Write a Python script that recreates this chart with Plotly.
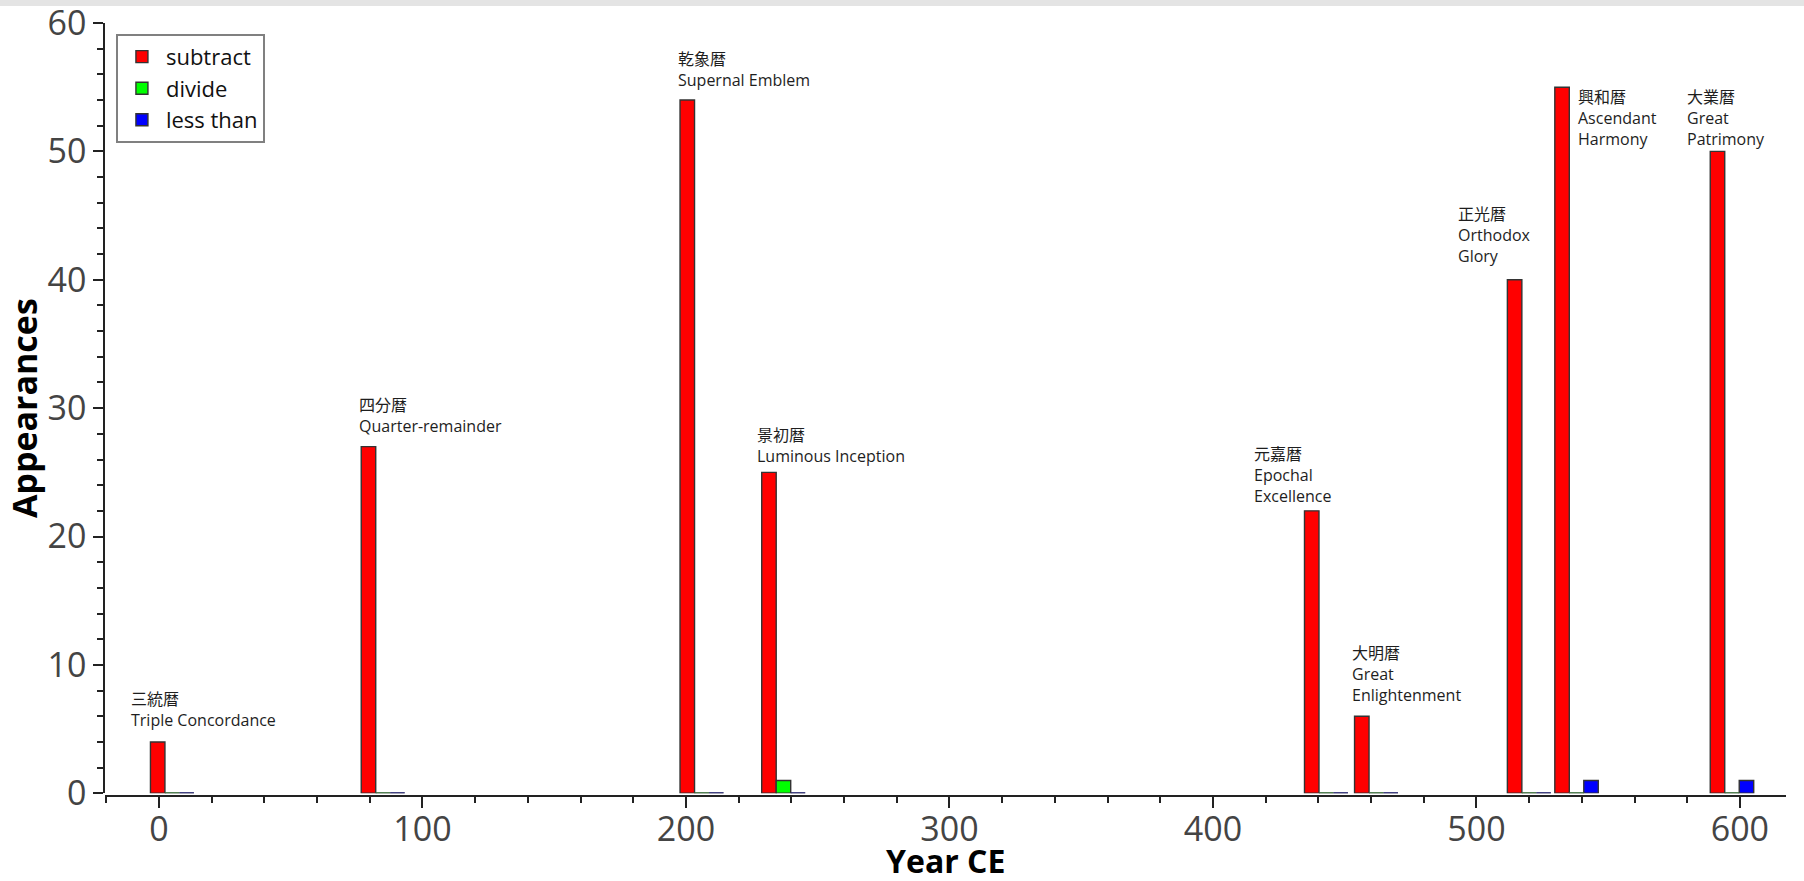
import plotly.graph_objects as go

# ---------------- data ----------------
calendar_zh = ["三統暦", "四分暦", "乾象暦", "景初暦", "元嘉暦", "大明暦", "正光暦", "興和暦", "大業暦"]
calendar_en = ["Triple Concordance", "Quarter-remainder", "Supernal Emblem", "Luminous Inception",
               "Epochal\nExcellence", "Great\nEnlightenment", "Orthodox\nGlory",
               "Ascendant\nHarmony", "Great\nPatrimony"]
years = [5, 85, 206, 237, 443, 462, 520, 538, 597]
subtract = [4, 27, 54, 25, 22, 6, 40, 55, 50]
divide = [0, 0, 0, 1, 0, 0, 0, 0, 0]
less_than = [0, 0, 0, 0, 0, 0, 0, 1, 1]

x_ticks = [0, 100, 200, 300, 400, 500, 600]
y_ticks = [0, 10, 20, 30, 40, 50, 60]

# ---------------- styling / layout constants ----------------
BAR_W = 5.5
series = [
    ("subtract", subtract, "#ff0000", "#7a1a1a"),
    ("divide", divide, "#00ff00", "#3c7a3c"),
    ("less than", less_than, "#0000ff", "#25257a"),
]
offsets = [-1.5 * BAR_W, -0.5 * BAR_W, 0.5 * BAR_W]

# label placement (pixel shifts relative to the top-left of each red bar)
label_shift = [
    (-21, 9, "bottom"), (-4, 8, "bottom"), (-4, 7, "bottom"), (-7, 3, "bottom"),
    (-52, 2, "bottom"), (-5, 8, "bottom"), (-51, 11, "bottom"), (21, 3, "top"),
    (-25, -1, "bottom"),
]

W, H = 1804, 881
ML, MR, MT, MB = 105, 18, 23, 85
plot_w = W - ML - MR
plot_h = H - MT - MB
y_dom0 = 2.7 / plot_h

fig = go.Figure()
for (name, vals, fill, zero_col), off in zip(series, offsets):
    fig.add_trace(go.Bar(
        x=years, y=vals, name=name,
        width=BAR_W, offset=off,
        marker=dict(color=fill, line=dict(color="#333333", width=1.4)),
    ))
    # zero-height bars drawn as a thin line along the baseline
    zx, zy = [], []
    for yr, v in zip(years, vals):
        if v == 0:
            zx += [yr + off, yr + off + BAR_W, None]
            zy += [v, v, None]
    if zx:
        fig.add_trace(go.Scatter(
            x=zx, y=zy, mode="lines", showlegend=False, hoverinfo="skip",
            line=dict(color=zero_col, width=2.2),
        ))

annotations = []
for zh, en, yr, v, (dx, dy, anc) in zip(calendar_zh, calendar_en, years, subtract, label_shift):
    annotations.append(dict(
        x=yr + offsets[0], y=v, xref="x", yref="y",
        text=zh + "<br>" + en.replace("\n", "<br>"),
        showarrow=False, xanchor="left", yanchor=anc, align="left",
        xshift=dx, yshift=dy,
        font=dict(family="Open Sans, Noto Sans CJK JP", size=16, color="#1e1e1e"),
    ))

# x-axis title (placed as paper annotation so it can sit close to the bottom edge)
annotations.append(dict(
    x=0.5, y=-(860 - 796) / plot_h, xref="paper", yref="paper",
    text="<b>Year CE</b>", showarrow=False, xanchor="center", yanchor="middle",
    font=dict(family="Open Sans", size=32, color="#000000"),
))

fig.update_layout(
    width=W, height=H,
    margin=dict(l=ML, r=MR, t=MT, b=MB, autoexpand=False),
    paper_bgcolor="white", plot_bgcolor="white",
    barmode="overlay",
    showlegend=True,
    legend=dict(
        x=0.0065, y=0.986, xanchor="left", yanchor="top",
        bgcolor="white", bordercolor="#808080", borderwidth=2,
        font=dict(family="Open Sans", size=22, color="#111111"),
        traceorder="normal", itemwidth=38,
    ),
    annotations=annotations,
    shapes=[dict(
        type="rect", xref="paper", yref="paper",
        x0=-ML / plot_w, x1=1 + MR / plot_w,
        y0=1 + (MT - 6) / plot_h, y1=1 + MT / plot_h,
        fillcolor="#e4e4e4", line=dict(width=0), layer="below",
    )],
    xaxis=dict(
        range=[-20.5, 617.5], tickvals=x_ticks, ticktext=[str(t) for t in x_ticks],
        showgrid=False, zeroline=False, automargin=False,
        showline=True, linecolor="#222222", linewidth=1.5,
        ticks="outside", ticklen=11, tickwidth=1.5, tickcolor="#222222",
        minor=dict(dtick=20, ticks="outside", ticklen=6, tickwidth=1.5, tickcolor="#222222"),
        tickfont=dict(family="Open Sans", size=34, color="#444444"),
        ticklabeloverflow="allow", ticklabelstandoff=-8,
        anchor="free", position=0,
    ),
    yaxis=dict(
        range=[0, 60], tickvals=y_ticks, ticktext=[str(t) for t in y_ticks],
        domain=[y_dom0, 1],
        showgrid=False, zeroline=False, automargin=False,
        showline=True, linecolor="#222222", linewidth=1.5,
        ticks="outside", ticklen=10, tickwidth=1.5, tickcolor="#222222",
        minor=dict(dtick=2, ticks="outside", ticklen=6, tickwidth=1.5, tickcolor="#222222"),
        tickfont=dict(family="Open Sans", size=34, color="#444444"),
        ticklabeloverflow="allow",
        title=dict(text="<b>Appearances</b>", font=dict(family="Open Sans", size=34, color="#000000"),
                   standoff=0),
    ),
)

fig.write_html("out.html", config={"displayModeBar": False},
               post_script="document.body.style.margin='0';")
